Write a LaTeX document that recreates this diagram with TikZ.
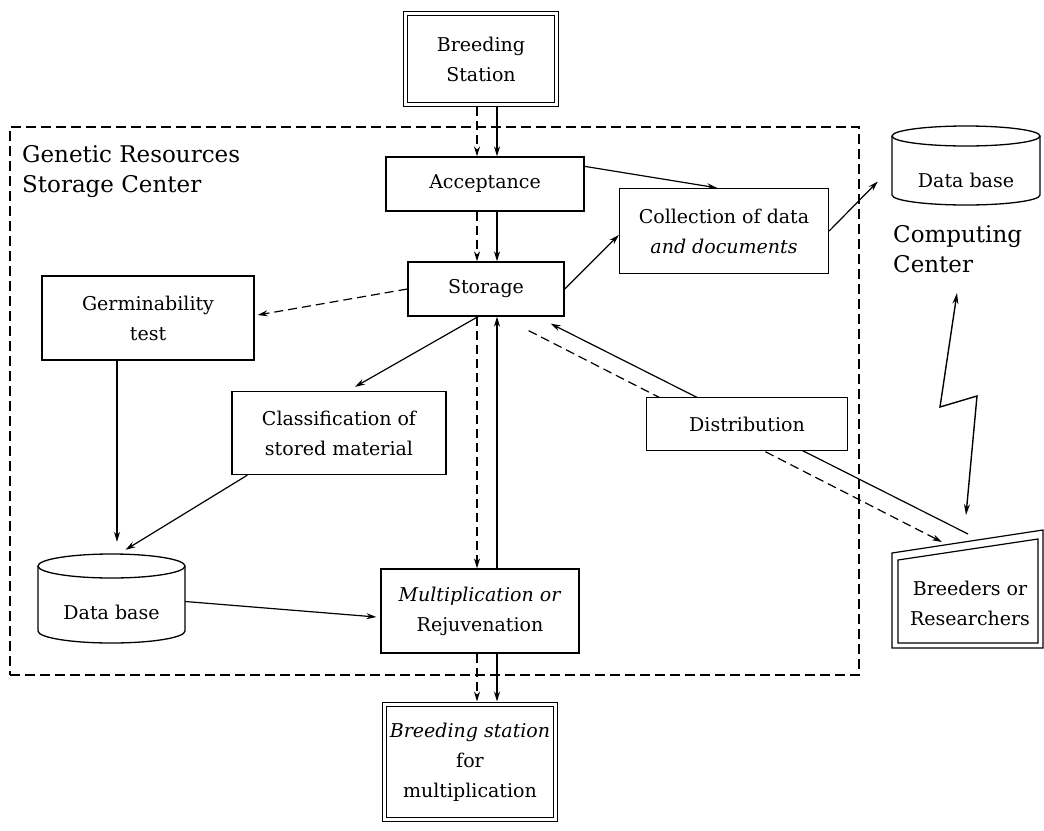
\documentclass[tikz,border=0pt]{standalone}
\usepackage{fontspec}
\setmainfont{DejaVu Serif}
\usetikzlibrary{arrows.meta,calc}
\pgfdeclarelayer{bg}
\pgfsetlayers{bg,main}
\begin{document}
\begin{tikzpicture}[x=1pt,y=-1pt,
  box/.style={draw,line width=1.3pt,fill=white,rectangle,inner sep=0pt,align=center,font=\fontsize{19}{30}\selectfont},
  dbox/.style={box,double,double distance=3pt,line width=1pt},
  conn/.style={line width=1.2pt,-{Stealth[length=10pt,width=6pt]}},
  dconn/.style={conn,dash pattern=on 9pt off 5pt},
  lbl/.style={font=\fontsize{23}{30}\selectfont,align=left,inner sep=0pt},
  cyl/.style={line width=1.3pt,fill=white},
  hid/.style={inner sep=0pt,rectangle},
  dbtext/.style={inner sep=0pt,font=\fontsize{19}{30}\selectfont},
]
\useasboundingbox (0,0) rectangle (1044,830);

% boxes
\node[dbox,minimum width=151pt,minimum height=91pt] (bs) at (481,59) {Breeding\\Station};
\node[box,minimum width=198pt,minimum height=54pt] (acc) at (485,184) {Acceptance};
\node[box,minimum width=156pt,minimum height=54pt] (sto) at (486,289) {Storage};
\node[box,minimum width=209pt,minimum height=85pt] (col) at (724,231) {Collection of data\\\textit{and documents}};
\node[box,minimum width=212pt,minimum height=84pt] (ger) at (148,318) {Germinability\\test};
\node[box,minimum width=214pt,minimum height=83pt] (cla) at (339,433) {Classification of\\stored material};
\node[box,minimum width=201pt,minimum height=53pt] (dist) at (747,424) {Distribution};
\node[box,minimum width=198pt,minimum height=84pt] (mul) at (480,611) {\textit{Multiplication or}\\Rejuvenation};
\node[dbox,minimum width=171pt,minimum height=115pt] (bsm) at (470,762) {\textit{Breeding station}\\for\\multiplication};

% data base cylinders
\node[hid,minimum width=147pt,minimum height=89pt] (db1) at (111.5,598.5) {};
\fill[white] (38,566) rectangle (185,631);
\draw[cyl] (38,566) -- (38,631) arc[start angle=180,end angle=0,x radius=73.5,y radius=12] -- (185,566);
\draw[cyl] (111.5,566) ellipse[x radius=73.5,y radius=12];
\node[dbtext] (db1t) at (111.5,612) {Data base};

\node[hid,minimum width=148pt,minimum height=79pt] (db2) at (966,165.5) {};
\fill[white] (892,136) rectangle (1040,195);
\draw[cyl] (892,136) -- (892,195) arc[start angle=180,end angle=0,x radius=74,y radius=10] -- (1040,136);
\draw[cyl] (966,136) ellipse[x radius=74,y radius=10];
\node[dbtext] (db2t) at (966,180) {Data base};

% breeders or researchers
\node[hid,minimum width=150pt,minimum height=100pt] (br) at (967,596) {};
\draw[line width=1.2pt] (892,553) -- (1043,530) -- (1043,648) -- (892,648) -- cycle;
\draw[line width=1.2pt] (898,560) -- (1038,539) -- (1038,643) -- (898,643) -- cycle;
\node[dbtext,align=center] (brt) at (970,603) {Breeders or\\Researchers};

% labels
\node[lbl,anchor=north west] (grsc) at (22,145.5) {Genetic Resources\\Storage Center};
\node[lbl,anchor=north west] (cc) at (893,225.5) {Computing\\Center};

% connector end coordinates
\coordinate (xd) at (477,0);
\coordinate (xs) at (497,0);
\coordinate (xg) at (117,0);
\coordinate (brA) at (968,534);
\coordinate (brB) at (942,542);
\coordinate (lt) at (957,293);
\coordinate (lb) at (966,515);

\begin{pgfonlayer}{bg}
\node[hid,draw,line width=1.4pt,dash pattern=on 10pt off 5pt,minimum width=849pt,minimum height=548pt] (gr) at (434.5,401) {};

\draw[dconn,shorten <=2pt] (bs.south -| xd) -- (acc.north -| xd);
\draw[conn,shorten <=2pt] (bs.south -| xs) -- (acc.north -| xs);
\draw[dconn] (acc.south -| xd) -- (sto.north -| xd);
\draw[conn] (acc.south -| xs) -- (sto.north -| xs);
\draw[dconn] (sto.south -| xd) -- (mul.north -| xd);
\draw[conn] (mul.north -| xs) -- (sto.south -| xs);
\draw[dconn,shorten >=2.5pt] (mul.south -| xd) -- (bsm.north -| xd);
\draw[conn,shorten >=2.5pt] (mul.south -| xs) -- (bsm.north -| xs);

\draw[conn] ($(acc.north east)+(0,10)$) -- ($(col.north)+(-7,0)$);
\draw[conn] (sto.east) -- ($(col.west)+(0,4)$);
\draw[conn] (col.east) -- ($(db2.west)+(-14,16)$);
\draw[dconn] (sto.west) -- ($(ger.east)+(3,-3)$);
\draw[conn] (ger.south -| xg) -- ($(db1.north -| xg)+(0,-12)$);
\draw[conn] ($(cla.south west)+(16,0)$) -- ($(db1.north)+(14,-4)$);
\draw[conn] ($(sto.south)+(-8,0)$) -- ($(cla.north)+(16,-4)$);
\draw[conn] ($(db1.east)+(0,3)$) -- ($(mul.west)+(-4,6)$);
\draw[conn] (brA) -- ($(sto.south east)+(-14,7)$);
\draw[dconn] ($(sto.south east)+(-36,14)$) -- (brB);
\draw[line width=1.4pt,{Stealth[length=11pt,width=6pt]}-{Stealth[length=11pt,width=6pt]}] (lt) -- (940,407) -- (977,396) -- (lb);
\end{pgfonlayer}
\end{tikzpicture}
\end{document}
